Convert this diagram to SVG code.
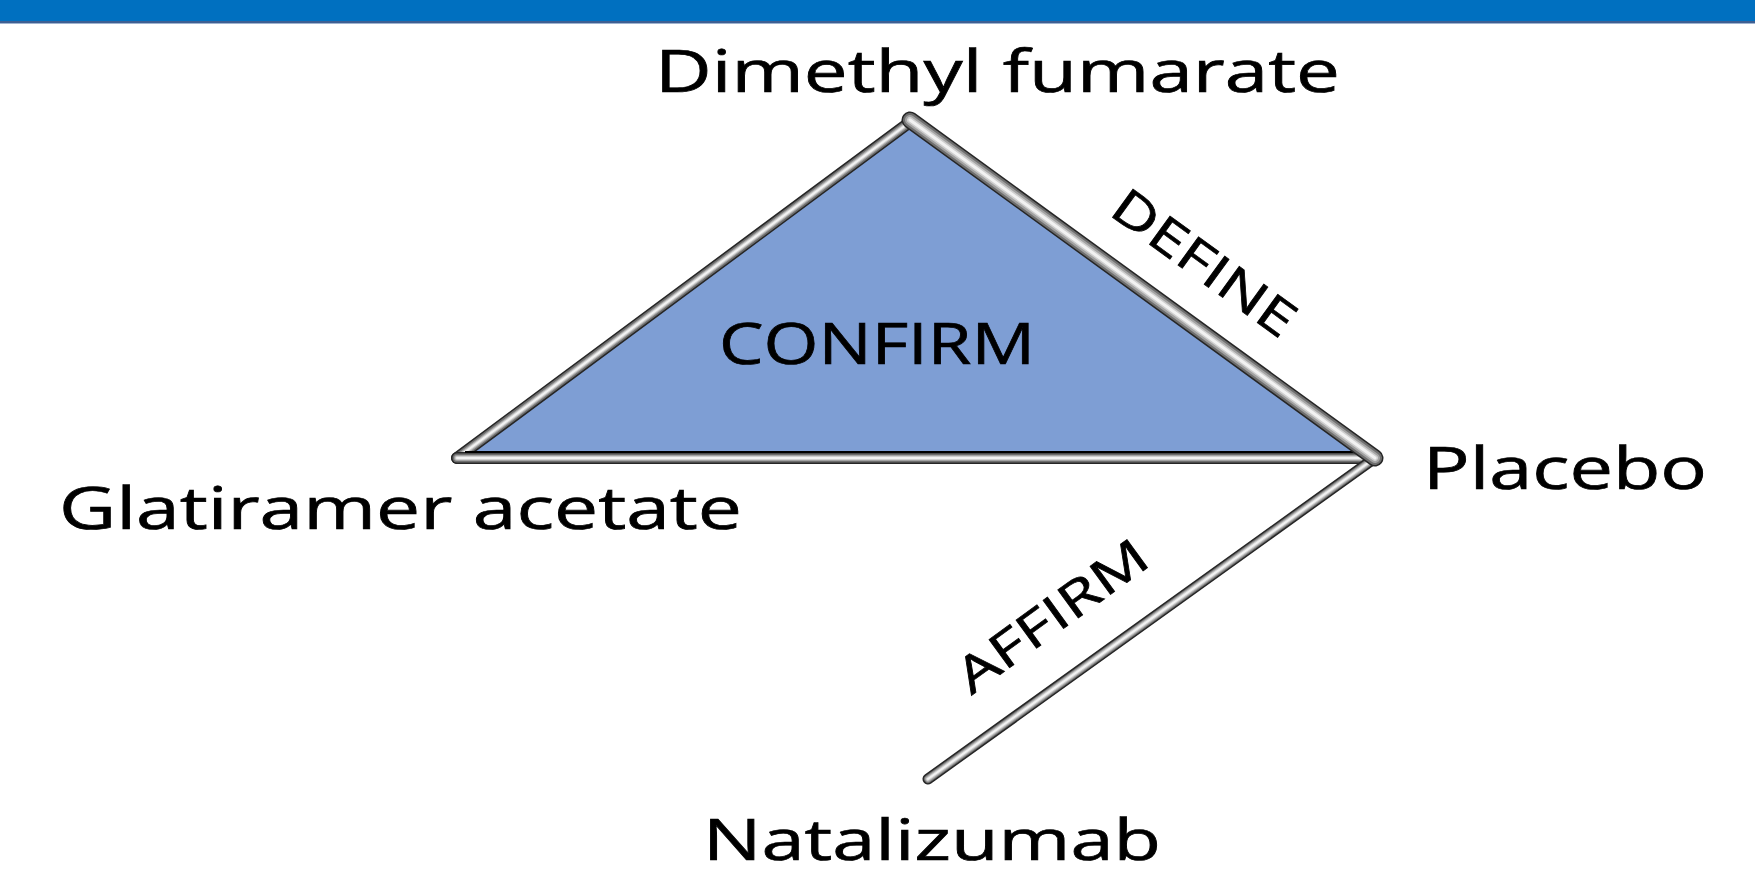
<svg xmlns="http://www.w3.org/2000/svg" width="1755" height="874" viewBox="0 0 1755 874">
  <style>
    .lbl { font-family: "Open Sans", "Noto Sans", "DejaVu Sans", sans-serif; fill: #000; stroke: #000; stroke-width: 0.7; }
    .tube-edge { fill: none; stroke: #262626; stroke-linecap: round; stroke-linejoin: round; }
    .tube-dark { fill: none; stroke: #6e6e6e; stroke-linecap: round; stroke-linejoin: round; }
    .tube-mid { fill: none; stroke: #a2a2a2; stroke-linecap: round; stroke-linejoin: round; }
    .tube-lite { fill: none; stroke: #cfcfcf; stroke-linecap: round; stroke-linejoin: round; }
    .tube-hi { fill: none; stroke: #f2f2f2; stroke-linecap: round; stroke-linejoin: round; }
  </style>

  <!-- header band -->
  <rect x="0" y="0" width="1755" height="22" fill="#0070c0"/>
  <rect x="0" y="21" width="1755" height="2" fill="#3d5f92"/>
  <rect x="0" y="23" width="1755" height="1" fill="#9fb3d0"/>

  <!-- triangle body -->
  <g id="confirm-area">
    <polygon points="910,128 1366,452 465,452" fill="#7e9ed4"/>
    <text class="lbl" x="877" y="364" font-size="56" text-anchor="middle" textLength="316" lengthAdjust="spacingAndGlyphs">CONFIRM</text>
  </g>

  <!-- connectors drawn as shaded tubes -->
  <g id="connectors">
    <!-- Glatiramer acetate — Dimethyl fumarate -->
    <g id="edge-ga-dmf">
      <line class="tube-edge" x1="457" y1="458" x2="910" y2="122" stroke-width="12"/>
      <line class="tube-dark" x1="457" y1="458" x2="910" y2="122" stroke-width="9"/>
      <line class="tube-mid" x1="457" y1="458" x2="910" y2="122" stroke-width="6"/>
      <line class="tube-lite" x1="457" y1="458" x2="910" y2="122" stroke-width="4"/>
      <line class="tube-hi" x1="457" y1="458" x2="910" y2="122" stroke-width="2"/>
    </g>
    <!-- Glatiramer acetate — Placebo -->
    <g id="edge-ga-pl">
      <line class="tube-edge" x1="457" y1="458" x2="1375" y2="458" stroke-width="12"/>
      <line class="tube-dark" x1="457" y1="458" x2="1375" y2="458" stroke-width="9"/>
      <line class="tube-mid" x1="457" y1="458" x2="1375" y2="458" stroke-width="6"/>
      <line class="tube-lite" x1="457" y1="458" x2="1375" y2="458" stroke-width="4"/>
      <line class="tube-hi" x1="457" y1="458" x2="1375" y2="458" stroke-width="2"/>
      <line x1="465" y1="452" x2="1366" y2="452" stroke="#000" stroke-width="2"/>
    </g>
    <!-- Placebo — Natalizumab (AFFIRM) -->
    <g id="edge-pl-nat">
      <line class="tube-edge" x1="1375" y1="458" x2="928" y2="779" stroke-width="11"/>
      <line class="tube-dark" x1="1375" y1="458" x2="928" y2="779" stroke-width="8"/>
      <line class="tube-mid" x1="1375" y1="458" x2="928" y2="779" stroke-width="6"/>
      <line class="tube-lite" x1="1375" y1="458" x2="928" y2="779" stroke-width="4"/>
      <line class="tube-hi" x1="1375" y1="458" x2="928" y2="779" stroke-width="2"/>
    </g>
    <!-- Dimethyl fumarate — Placebo (DEFINE) -->
    <g id="edge-dmf-pl">
      <line class="tube-edge" x1="910" y1="120" x2="1375" y2="458" stroke-width="17"/>
      <line class="tube-dark" x1="910" y1="120" x2="1375" y2="458" stroke-width="14"/>
      <line class="tube-mid" x1="910" y1="120" x2="1375" y2="458" stroke-width="10"/>
      <line class="tube-lite" x1="910" y1="120" x2="1375" y2="458" stroke-width="6"/>
      <line class="tube-hi" x1="910" y1="120" x2="1375" y2="458" stroke-width="3"/>
    </g>
    <text class="lbl" font-size="49" text-anchor="middle" transform="translate(1204,263) rotate(36)" dy="17" textLength="214" lengthAdjust="spacingAndGlyphs">DEFINE</text>
    <text class="lbl" font-size="49" text-anchor="middle" transform="translate(1052,616) rotate(-36)" dy="17" textLength="224" lengthAdjust="spacingAndGlyphs">AFFIRM</text>
  </g>

  <!-- treatment nodes -->
  <g id="node-dmf">
    <text class="lbl" x="655" y="92" font-size="58" textLength="685" lengthAdjust="spacingAndGlyphs">Dimethyl fumarate</text>
  </g>
  <g id="node-ga">
    <text class="lbl" x="59" y="529" font-size="58" textLength="683" lengthAdjust="spacingAndGlyphs">Glatiramer acetate</text>
  </g>
  <g id="node-placebo">
    <text class="lbl" x="1423" y="489" font-size="58" textLength="284" lengthAdjust="spacingAndGlyphs">Placebo</text>
  </g>
  <g id="node-nat">
    <text class="lbl" x="703" y="860" font-size="57" textLength="458" lengthAdjust="spacingAndGlyphs">Natalizumab</text>
  </g>
</svg>
